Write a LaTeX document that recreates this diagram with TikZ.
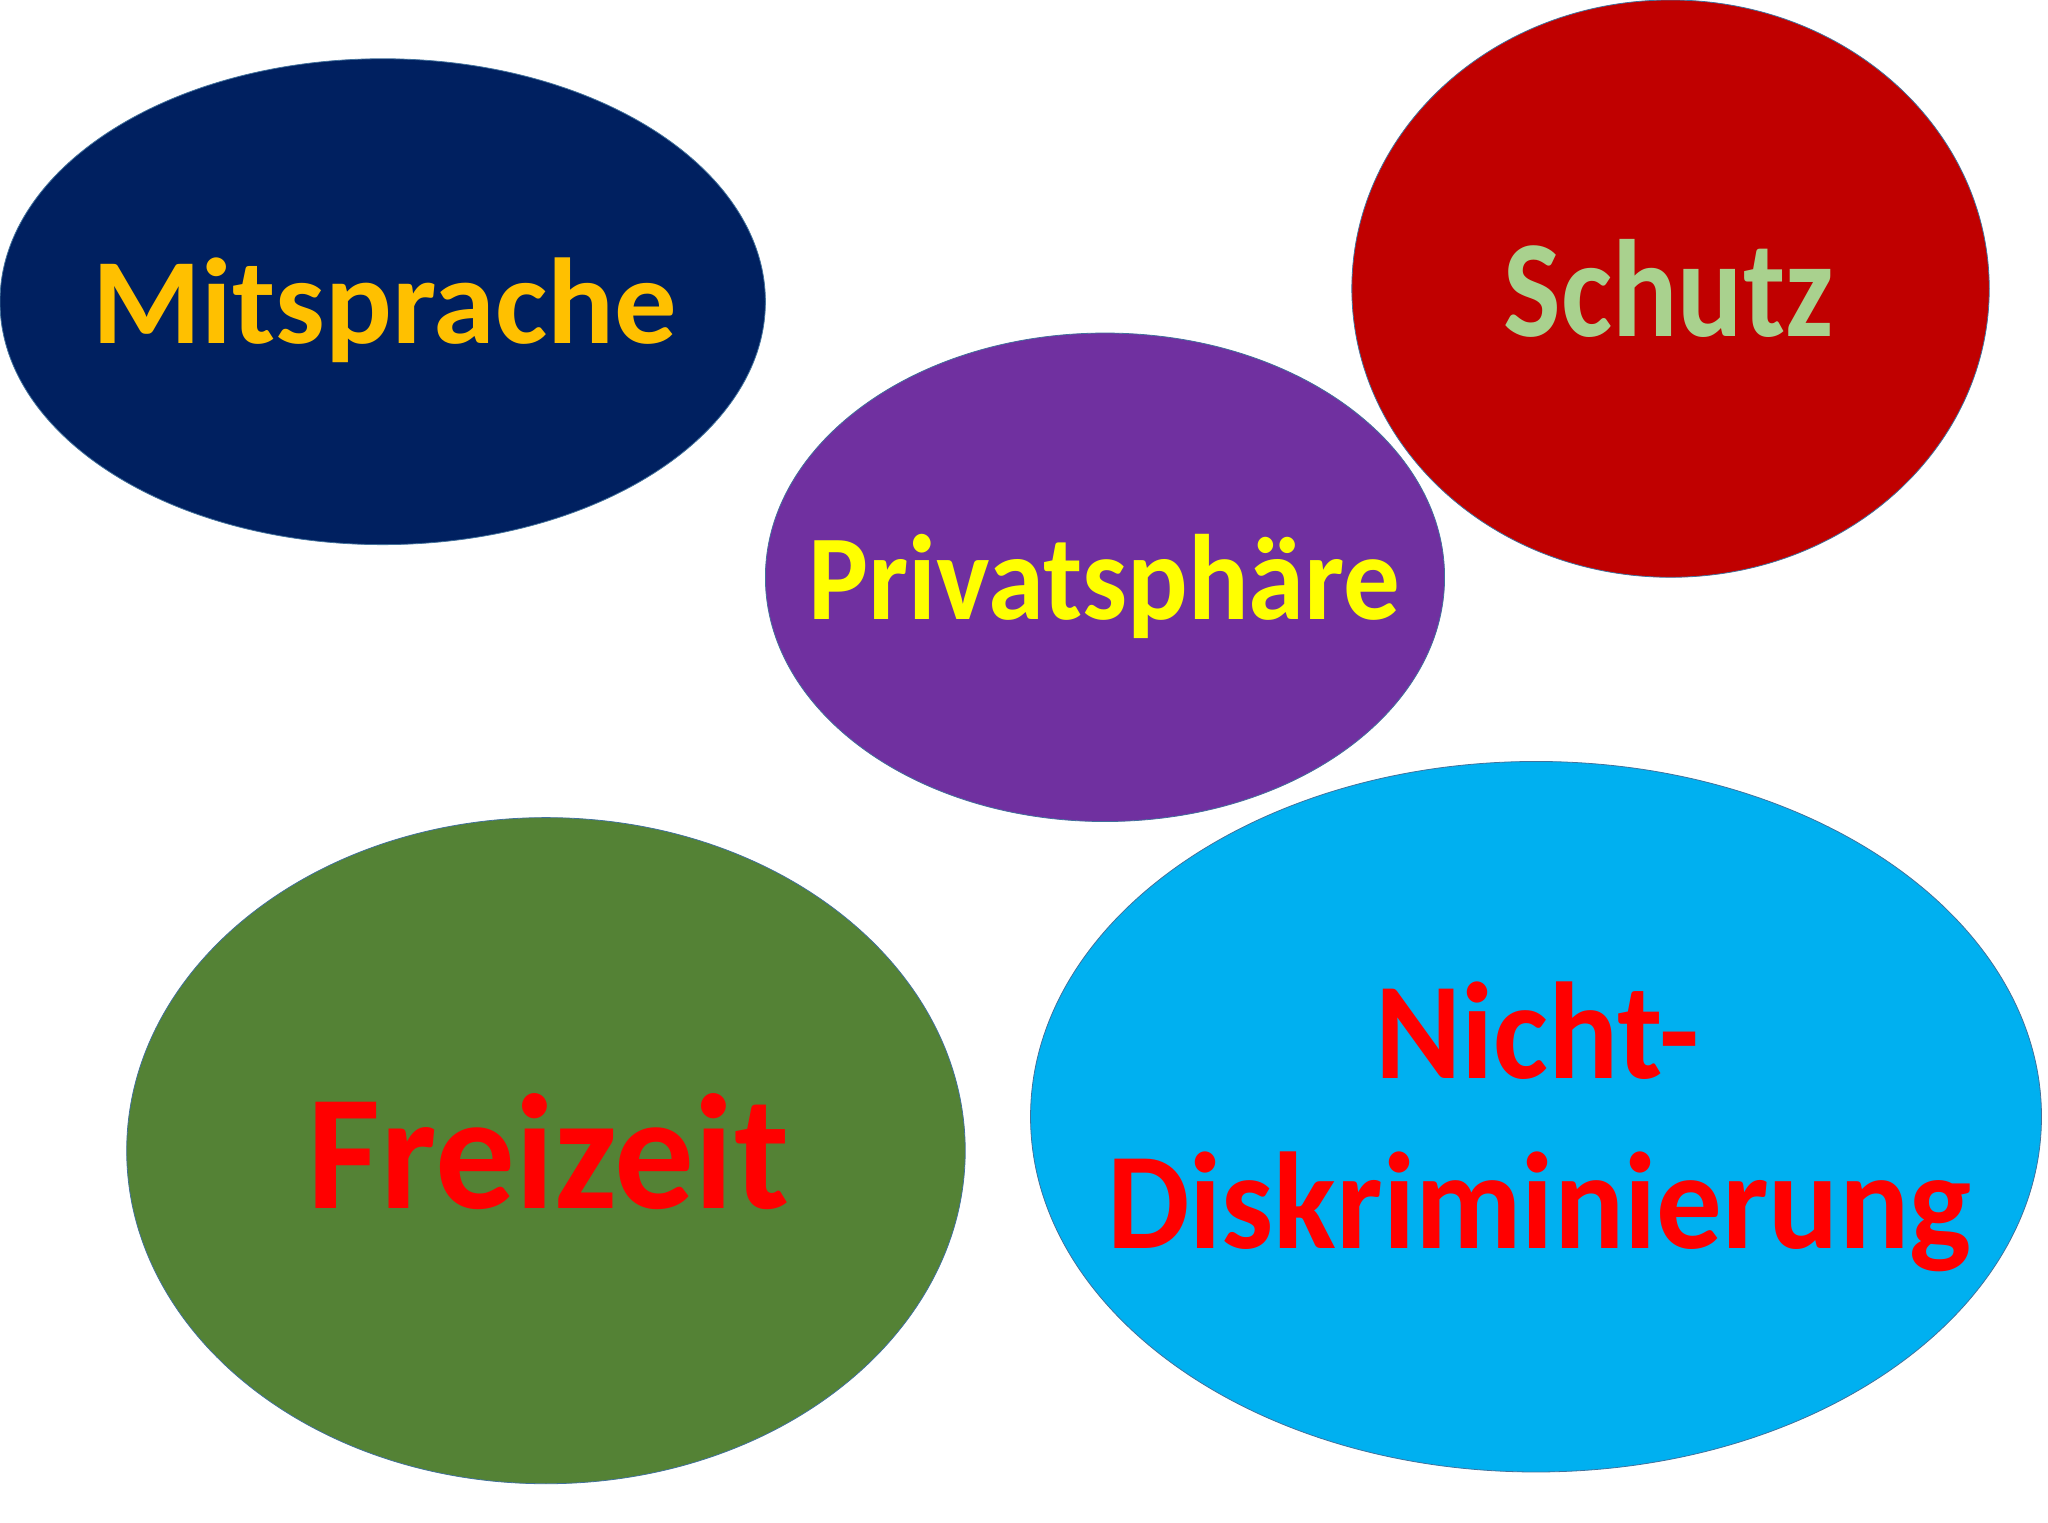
\documentclass[tikz,border=0pt]{standalone}
\usepackage{fontspec}
\setmainfont{Carlito}
\usetikzlibrary{shapes.geometric}
\definecolor{navy}{HTML}{002060}
\definecolor{gold}{HTML}{FFC000}
\definecolor{darkred}{HTML}{C00000}
\definecolor{palegreen}{HTML}{A9D18E}
\definecolor{purple}{HTML}{7030A0}
\definecolor{yel}{HTML}{FFFF00}
\definecolor{leaf}{HTML}{548235}
\definecolor{sky}{HTML}{00B0F0}
\definecolor{brightred}{HTML}{FF0000}
\definecolor{edge}{HTML}{41719C}
\tikzset{
  bubble/.style={ellipse, draw=edge, line width=0.6pt, inner sep=0pt, minimum width=2*#1},
  lbl/.style={anchor=base, inner sep=0pt}
}
\newcommand{\lblfont}[1]{\fontsize{#1}{#1}\selectfont\bfseries}
\begin{document}
\begin{tikzpicture}[x=1pt,y=1pt]
\useasboundingbox (0,0) rectangle (1568,1166);
% ellipses
\node[bubble=293, minimum height=372, fill=navy] (mit) at (293,935) {};
\node[bubble=244, minimum height=442, fill=darkred] (sch) at (1279,945) {};
\node[bubble=260, minimum height=374, fill=purple] (pri) at (846,724) {};
\node[bubble=321, minimum height=510, fill=leaf] (fre) at (418,285) {};
\node[bubble=387, minimum height=544, fill=sky] (nic) at (1176,311) {};
% labels
\node[lbl, text=gold, font=\lblfont{93.5}] (tmit) at (294.5,903) {\scalebox{1.02}[1]{Mitsprache}};
\node[lbl, text=palegreen, font=\lblfont{106}] (tsch) at (1277.5,908) {\scalebox{0.88}[1]{Schutz}};
\node[lbl, text=yel, font=\lblfont{93}] (tpri) at (845.5,692) {\scalebox{0.93}[1]{Privatsphäre}};
\node[lbl, text=brightred, font=\lblfont{125.5}] (tfre) at (420,241) {\scalebox{0.97}[1]{Freizeit}};
\node[lbl, text=brightred, font=\lblfont{105.5}] (tnic1) at (1177,340) {\scalebox{0.95}[1]{Nicht-}};
\node[lbl, text=brightred, font=\lblfont{105.5}] (tnic2) at (1178.5,210) {\scalebox{0.95}[1]{Diskriminierung}};
\end{tikzpicture}
\end{document}
